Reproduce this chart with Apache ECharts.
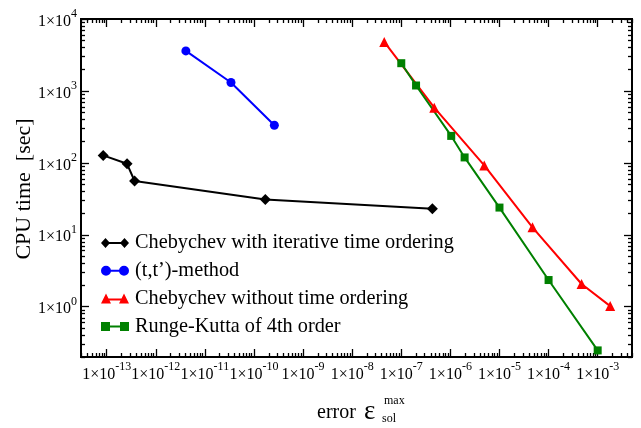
<!DOCTYPE html>
<html>
<head>
<meta charset="utf-8">
<script src="https://cdn.jsdelivr.net/npm/echarts@6/dist/echarts.min.js"></script>
<style>
  html, body { margin: 0; padding: 0; background: #fff; }
  #chart { width: 641px; height: 428px; }
</style>
</head>
<body>
<div id="chart"></div>
<script>
// error (x) vs CPU time in sec (y)
const chebIterX = [8.5e-14, 2.6e-13, 3.7e-13, 1.7e-10, 4.3e-7];
const chebIterY = [127, 97, 56, 31, 23];
const ttX = [4.1e-12, 3.4e-11, 2.6e-10];
const ttY = [3600, 1310, 333];
const chebNoX = [4.5e-8, 4.7e-7, 4.9e-6, 4.7e-5, 4.7e-4, 1.8e-3];
const chebNoY = [4800, 585, 92, 12.7, 2.07, 1.02];
const rkX = [1e-7, 2e-7, 1.04e-6, 1.95e-6, 1e-5, 1e-4, 1e-3];
const rkY = [2430, 1190, 237, 119, 23.9, 2.35, 0.247];

const names = [
  'Chebychev with iterative time ordering',
  '(t,t\u2019)-method',
  'Chebychev without time ordering',
  'Runge-Kutta of 4th order'
];
const colors = ['#000000', '#0000ff', '#ff0000', '#008000'];

// axis ticks (exponents of 10)
const xTickExp = [-13, -12, -11, -10, -9, -8, -7, -6, -5, -4, -3];
const yTickExp = [0, 1, 2, 3, 4];
const minorSteps = [2, 3, 4, 5, 6, 7, 8, 9];
const xMinorDecades = [-14, -13, -12, -11, -10, -9, -8, -7, -6, -5, -4, -3];
const yMinorDecades = [-1, 0, 1, 2, 3];

const X_MIN = 3e-14, X_MAX = 5e-3;
const Y_MIN = 0.2, Y_MAX = 1e4;

const FONT = 'Liberation Serif';

const pairs = (xs, ys) => xs.map((x, i) => [x, ys[i]]);
const majors = exps => exps.map(e => Math.pow(10, e));
const minors = decades => {
  const out = [];
  decades.forEach(d => minorSteps.forEach(m => out.push(m * Math.pow(10, d))));
  return out;
};

// "1x10" with a raised exponent
const labelRich = {
  b: {fontFamily: FONT, fontSize: 16, lineHeight: 16, color: '#000', padding: [5, 0, 0, 0]},
  s: {fontFamily: FONT, fontSize: 12, lineHeight: 12, color: '#000', padding: [0, 0, 10, 0]}
};
const powLabel = v => '{b|1\u00d710}{s|' + Math.round(Math.log10(v)) + '}';

function axis(kind, position, ticks, len, withLabels) {
  const isX = kind === 'x';
  return {
    type: 'log',
    logBase: 10,
    position: position,
    min: isX ? X_MIN : Y_MIN,
    max: isX ? X_MAX : Y_MAX,
    axisLine: {show: true, onZero: false, lineStyle: {color: '#000', width: 2}},
    axisTick: {show: true, inside: true, length: len, customValues: ticks,
      lineStyle: {color: '#000', width: 1.3}},
    axisLabel: withLabels ? {
      show: true, customValues: ticks, formatter: powLabel, rich: labelRich,
      margin: isX ? 7 : 4
    } : {show: false},
    splitLine: {show: false},
    minorTick: {show: false}
  };
}

const legendIcons = [
  'path://M0,5L4.5,0L9,5L4.5,10ZM4.5,4L23.5,4L23.5,6L4.5,6ZM19,5L23.5,0L28,5L23.5,10Z',
  'path://M0,5A5,5,0,1,1,10,5A5,5,0,1,1,0,5ZM5,4L23,4L23,6L5,6ZM18,5A5,5,0,1,1,28,5A5,5,0,1,1,18,5Z',
  'path://M0,10L5,0L10,10ZM5,5L23,5L23,7L5,7ZM18,10L23,0L28,10Z',
  'path://M0,0.5L9,0.5L9,9.5L0,9.5ZM4.5,4L23.5,4L23.5,6L4.5,6ZM19,0.5L28,0.5L28,9.5L19,9.5Z'
];

const seriesData = [
  {data: pairs(chebIterX, chebIterY), symbol: 'diamond', size: 11},
  {data: pairs(ttX, ttY), symbol: 'circle', size: 9},
  {data: pairs(chebNoX, chebNoY), symbol: 'triangle', size: 10},
  {data: pairs(rkX, rkY), symbol: 'rect', size: 8}
];

const chart = echarts.init(document.getElementById('chart'), null, {renderer: 'canvas'});
chart.setOption({
  animation: false,
  backgroundColor: '#fff',
  grid: {left: 81, right: 9, top: 19, bottom: 71},
  xAxis: [
    axis('x', 'bottom', majors(xTickExp), 8, true),
    axis('x', 'bottom', minors(xMinorDecades), 4, false),
    axis('x', 'top', majors(xTickExp), 8, false),
    axis('x', 'top', minors(xMinorDecades), 4, false)
  ],
  yAxis: [
    axis('y', 'left', majors(yTickExp), 8, true),
    axis('y', 'left', minors(yMinorDecades), 4, false),
    axis('y', 'right', majors(yTickExp), 8, false),
    axis('y', 'right', minors(yMinorDecades), 4, false)
  ],
  legend: {
    orient: 'vertical',
    left: 101,
    top: 233,
    padding: 0,
    itemWidth: 28,
    itemHeight: 10,
    itemGap: 7.8,
    selectedMode: false,
    itemStyle: {borderWidth: 0},
    textStyle: {fontFamily: FONT, fontSize: 20.3, lineHeight: 20, color: '#000', padding: [0, 0, 0, 1]},
    data: names.map((n, i) => ({name: n, icon: legendIcons[i]}))
  },
  graphic: [
    {type: 'text', x: 24, y: 189, rotation: Math.PI / 2,
      style: {text: 'CPU time  [sec]', fontFamily: FONT, fontSize: 22, fill: '#000', align: 'center', verticalAlign: 'middle'}},
    {type: 'text', left: 317, top: 403, style: {text: 'error', fontFamily: FONT, fontSize: 20, fill: '#000'}},
    {type: 'text', left: 364, top: 398, style: {text: '\u03b5', fontFamily: FONT, fontSize: 27, fill: '#000'}},
    {type: 'text', left: 384, top: 395, style: {text: 'max', fontFamily: FONT, fontSize: 12, fill: '#000'}},
    {type: 'text', left: 382, top: 413, style: {text: 'sol', fontFamily: FONT, fontSize: 12, fill: '#000'}}
  ],
  series: seriesData.map((s, i) => ({
    name: names[i],
    type: 'line',
    xAxisIndex: 0,
    yAxisIndex: 0,
    data: s.data,
    symbol: s.symbol,
    symbolSize: s.size,
    showAllSymbol: true,
    color: colors[i],
    lineStyle: {color: colors[i], width: 2},
    itemStyle: {color: colors[i], borderWidth: 0},
    emphasis: {disabled: true}
  }))
});
</script>
</body>
</html>
